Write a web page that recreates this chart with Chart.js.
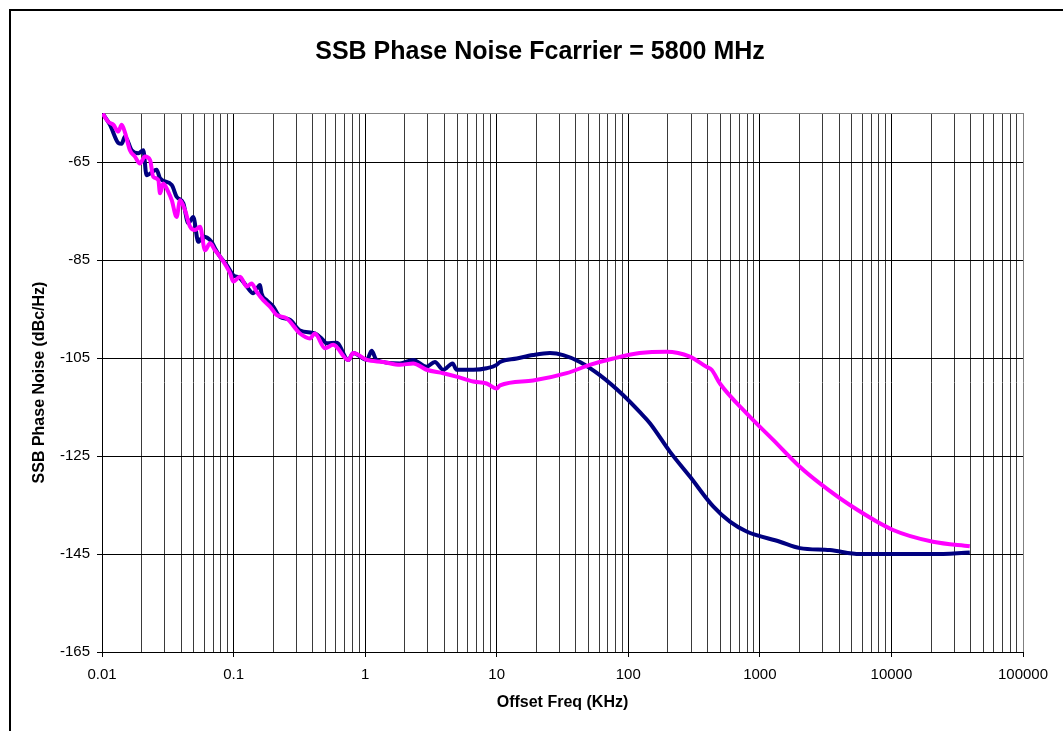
<!DOCTYPE html>
<html>
<head>
<meta charset="utf-8">
<script src="https://cdn.jsdelivr.net/npm/chart.js@4/dist/chart.umd.min.js"></script>
<style>
  body { margin: 0; background: #fff; }
  #wrap { width: 1063px; height: 731px; }
</style>
</head>
<body>
<div id="wrap"><canvas id="noiseChart" width="1063" height="731"></canvas></div>
<script>
// offset frequency in KHz, level in dBc/Hz
const blueFreq = [0.0101, 0.0115, 0.0133, 0.0141, 0.01496, 0.0168, 0.0189, 0.0206, 0.0218, 0.026,
  0.0276, 0.0339, 0.0369, 0.0415, 0.0453, 0.0494, 0.0539, 0.0589, 0.0681, 0.0722,
  0.0788, 0.0886, 0.0995, 0.112, 0.126, 0.141, 0.159, 0.163, 0.178, 0.2,
  0.225, 0.268, 0.32, 0.415, 0.467, 0.51, 0.607, 0.744, 0.812, 1.03,
  1.12, 1.22, 1.84, 2.32, 2.93, 3.39, 3.92, 4.62, 4.95, 6.63,
  8.38, 9.98, 10.6, 14.2, 18.9, 25.4, 32, 42.9, 60.8, 91.6,
  122, 146, 207, 294, 442, 592, 793, 1420, 2014, 3404,
  5750, 20700, 39400];
const blueLevel = [-55.1, -57.4, -61.1, -61.3, -59.8, -62.6, -63.2, -62.6, -67.7, -66.6,
  -68.3, -69.7, -72.1, -73.4, -77.5, -76.2, -81.3, -80.2, -81.3, -82.6,
  -84.3, -86, -88.1, -88.7, -90.4, -91.8, -90.1, -91.8, -93.2, -94.5,
  -96.6, -97.2, -99.4, -100, -101, -102, -101.9, -105.4, -104, -105.4,
  -103.5, -105.4, -106.1, -105.4, -106.8, -105.8, -107.4, -106.1, -107.4, -107.4,
  -107.1, -106.4, -105.8, -105.1, -104.4, -104, -104.4, -105.8, -108.5, -112.6,
  -116, -118.3, -124.1, -129.2, -135.3, -138.4, -140.4, -142.5, -143.8, -144.2,
  -145, -145, -144.7];

const pinkFreq = [0.0101, 0.01117, 0.0122, 0.0133, 0.0141, 0.015, 0.0163, 0.0178, 0.0194, 0.0212,
  0.0232, 0.0245, 0.0268, 0.0276, 0.0292, 0.0319, 0.0339, 0.0369, 0.0392, 0.0427,
  0.0467, 0.0509, 0.0556, 0.0607, 0.0662, 0.0722, 0.0788, 0.094, 0.0995, 0.112,
  0.126, 0.137, 0.15, 0.168, 0.189, 0.212, 0.253, 0.32, 0.381, 0.415,
  0.495, 0.572, 0.744, 0.812, 1.03, 1.37, 1.84, 2.32, 2.93, 3.92,
  4.95, 6.63, 8.38, 9.98, 10.6, 18.9, 34, 51, 76.9, 122,
  195, 294, 393, 430, 497, 793, 1262, 2014, 2858, 4830,
  10300, 20700, 39400];
const pinkLevel = [-55.1, -56.8, -57.4, -58.8, -57.4, -59.1, -62.6, -63.9, -65.3, -63.9,
  -64.6, -68, -68.7, -71.4, -69.4, -71.1, -72.8, -76.2, -72.8, -74.8,
  -78.2, -78.9, -78.2, -83, -81.6, -83, -84.3, -87.7, -89.4, -88.4,
  -90.4, -89.8, -91.5, -93.2, -94.5, -96.2, -96.9, -100, -101, -100,
  -103, -102.3, -105.4, -104, -105.4, -105.8, -106.4, -106.1, -107.4, -108.1,
  -108.8, -109.8, -110.2, -111.2, -110.6, -109.6, -108.1, -106.4, -105.1, -104,
  -103.7, -104.7, -106.8, -107.4, -110.2, -116.3, -121.7, -127.2, -130.6, -135,
  -140.1, -142.5, -143.4];

// axis ticks
const xDecades = [0.01, 0.1, 1, 10, 100, 1000, 10000, 100000];
const xTickLabels = ['0.01', '0.1', '1', '10', '100', '1000', '10000', '100000'];
const yTicks = [-165, -145, -125, -105, -85, -65];
const yMin = -165, yMax = -55;

const font = "'Liberation Sans', Arial, sans-serif";
Chart.defaults.font.family = font;
Chart.defaults.color = '#000';

function toPoints(xs, ys) {
  return xs.map((x, i) => ({ x: x, y: ys[i] }));
}

// minor ticks 2..9 inside each decade
const xTickValues = [];
xDecades.forEach((d, i) => {
  xTickValues.push(d);
  if (i < xDecades.length - 1) {
    for (let k = 2; k <= 9; k++) xTickValues.push(d * k);
  }
});

// white page + outer frame + title
const framePlugin = {
  id: 'frame',
  beforeDraw(chart) {
    const ctx = chart.ctx;
    ctx.save();
    ctx.fillStyle = '#fff';
    ctx.fillRect(0, 0, chart.width, chart.height);
    ctx.strokeStyle = '#000';
    ctx.lineWidth = 2;
    ctx.strokeRect(10, 10, chart.width + 50, chart.height + 50);
    ctx.restore();
  },
  afterDraw(chart) {
    const ctx = chart.ctx;
    ctx.save();
    ctx.fillStyle = '#000';
    ctx.font = 'bold 25px ' + font;
    ctx.textAlign = 'center';
    ctx.textBaseline = 'middle';
    ctx.fillText('SSB Phase Noise Fcarrier = 5800 MHz', 540, 52);
    ctx.restore();
  }
};

const ctx = document.getElementById('noiseChart').getContext('2d');
new Chart(ctx, {
  type: 'line',
  data: {
    datasets: [
      {
        label: 'Trace A',
        data: toPoints(blueFreq, blueLevel),
        borderColor: '#000080',
        borderWidth: 4,
        pointRadius: 0,
        cubicInterpolationMode: 'monotone',
        order: 2
      },
      {
        label: 'Trace B',
        data: toPoints(pinkFreq, pinkLevel),
        borderColor: '#FF00FF',
        borderWidth: 4,
        pointRadius: 0,
        cubicInterpolationMode: 'monotone',
        order: 1
      }
    ]
  },
  plugins: [framePlugin],
  options: {
    responsive: false,
    animation: false,
    layout: { padding: { left: 12, right: 40, top: 113, bottom: 19 } },
    plugins: {
      legend: { display: false },
      tooltip: { enabled: false },
      title: { display: false }
    },
    scales: {
      x: {
        type: 'logarithmic',
        min: 0.01,
        max: 100000,
        afterBuildTicks: scale => { scale.ticks = xTickValues.map(v => ({ value: v })); },
        afterFit: scale => { scale.height = 60; },
        grid: {
          color: c => {
            const v = c.tick ? c.tick.value : 0;
            if (v === 100000) return '#808080';
            return xDecades.includes(v) ? '#000' : '#3a3a3a';
          },
          tickColor: c => (c.tick && xDecades.includes(c.tick.value)) ? '#000' : 'rgba(0,0,0,0)',
          tickLength: 5,
          lineWidth: 1
        },
        border: { color: '#000', width: 1 },
        ticks: {
          autoSkip: false,
          maxRotation: 0,
          padding: 9,
          font: { size: 15 },
          callback: v => {
            const i = xDecades.indexOf(v);
            return i >= 0 ? xTickLabels[i] : '';
          }
        },
        title: {
          display: true,
          text: 'Offset Freq (KHz)',
          font: { size: 16, weight: 'bold' },
          padding: { top: 0, bottom: 0 }
        }
      },
      y: {
        min: yMin,
        max: yMax,
        afterBuildTicks: scale => {
          scale.ticks = yTicks.map(v => ({ value: v })).concat([{ value: yMax }]);
        },
        afterFit: scale => { scale.width = 90; },
        grid: {
          color: c => (c.tick && c.tick.value === yMax) ? '#808080' : '#000',
          tickColor: c => (c.tick && c.tick.value === yMax) ? 'rgba(0,0,0,0)' : '#000',
          tickLength: 5,
          lineWidth: 1
        },
        border: { color: '#000', width: 1 },
        ticks: {
          padding: 7,
          font: { size: 15 },
          callback: v => (yTicks.includes(v) ? String(v) : '')
        },
        title: {
          display: true,
          text: 'SSB Phase Noise (dBc/Hz)',
          font: { size: 16, weight: 'bold' },
          padding: { top: 18, bottom: 0 }
        }
      }
    }
  }
});
</script>
</body>
</html>
